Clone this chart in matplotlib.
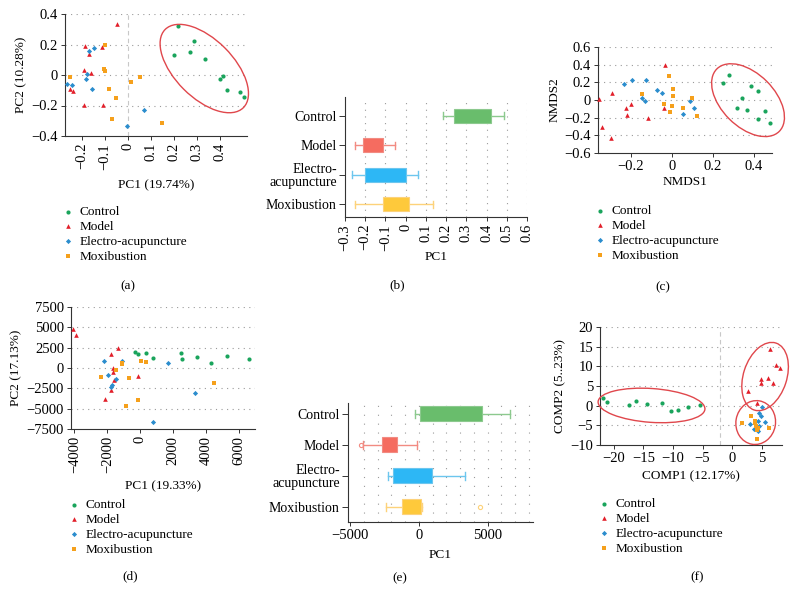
import numpy as np
import matplotlib
matplotlib.use("Agg")
import matplotlib.pyplot as plt
from matplotlib.patches import Ellipse
from matplotlib.transforms import IdentityTransform
from matplotlib.ticker import FuncFormatter

plt.rcParams['font.family'] = ['Liberation Serif', 'DejaVu Serif']
plt.rcParams['font.size'] = 9.5
plt.rcParams['axes.unicode_minus'] = True

# ---------------- data ----------------
groups = ["Control", "Model", "Electro-acupuncture", "Moxibustion"]
box_labels = ["Control", "Model", "Electro-\nacupuncture", "Moxibustion"]

# (a) PCA
a_ctrl_x = [0.22, 0.20, 0.29, 0.27, 0.335, 0.403, 0.416, 0.431, 0.488, 0.509]
a_ctrl_y = [0.32, 0.13, 0.22, 0.15, 0.107, -0.026, -0.009, -0.096, -0.109, -0.142]
a_model_x = [-0.049, -0.187, -0.169, -0.113, -0.19, -0.162, -0.254, -0.241, -0.191, -0.108]
a_model_y = [0.334, 0.188, 0.138, 0.184, 0.03, 0.015, -0.09, -0.105, -0.195, -0.199]
a_ea_x = [-0.171, -0.149, -0.178, -0.185, -0.265, -0.244, -0.156, 0.072, -0.005]
a_ea_y = [0.16, 0.175, 0.006, -0.024, -0.059, -0.063, -0.09, -0.232, -0.337]
a_moxi_x = [-0.101, -0.106, -0.101, -0.252, 0.054, 0.014, -0.084, -0.052, -0.069, 0.149]
a_moxi_y = [0.2, 0.042, 0.026, -0.015, -0.015, -0.048, -0.094, -0.153, -0.291, -0.313]

# (b) PC1 box stats
b_whislo = [0.185, -0.25, -0.263, -0.252]
b_q1 = [0.238, -0.209, -0.202, -0.111]
b_q3 = [0.422, -0.112, 0.002, 0.016]
b_whishi = [0.484, -0.054, 0.06, 0.137]

# (c) NMDS
c_ctrl_x = [0.249, 0.279, 0.387, 0.42, 0.345, 0.319, 0.37, 0.456, 0.42, 0.478]
c_ctrl_y = [0.192, 0.279, 0.155, 0.106, 0.019, -0.094, -0.117, -0.125, -0.215, -0.257]
c_model_x = [-0.035, -0.292, -0.355, -0.199, -0.224, -0.038, -0.219, -0.116, -0.339, -0.295]
c_model_y = [0.4, 0.079, 0.008, -0.045, -0.094, -0.094, -0.174, -0.208, -0.302, -0.43]
c_ea_x = [-0.232, -0.193, -0.124, -0.07, -0.045, -0.144, -0.129, 0.091, 0.11, 0.055]
c_ea_y = [0.185, 0.223, 0.223, 0.109, 0.083, 0.026, -0.011, -0.008, -0.091, -0.162]
c_moxi_x = [-0.012, -0.144, 0.007, 0.007, -0.038, 0.0, -0.007, 0.098, 0.055, 0.126]
c_moxi_y = [0.272, 0.072, 0.128, 0.049, -0.042, -0.068, -0.132, 0.026, -0.091, -0.177]

# (d) PCA (abundance)
d_ctrl_x = [-303, -121, 323, 788, 2444, 2545, 3414, 4283, 5273, 6586]
d_ctrl_y = [1941, 1777, 1900, 1287, 1900, 1124, 1370, 594, 1452, 1165]
d_model_x = [-4101, -3879, -1354, -1758, -1677, -1636, -1596, -1758, -2121, -121]
d_model_y = [4802, 4108, 2513, 1696, -60, -510, -1490, -2717, -3820, -1041]
d_ea_x = [-2202, -1091, -1980, -1737, -1455, 1657, 3293, 768, -1778]
d_ea_y = [920, 920, -837, -2145, -1327, 594, -3126, -6600, -2308]
d_moxi_x = [-1091, -1455, -2364, -667, 61, 323, 4444, -162, -889, -1111]
d_moxi_y = [634, -266, -1165, -1286, 920, 797, -1900, -3903, -4720, 470]

# (e) PC1 box stats
e_whislo = [-289, -4072, -2217, -2386]
e_q1 = [120, -2650, -1904, -1253]
e_q3 = [4578, -1590, 964, 145]
e_whishi = [6651, -169, 3325, 265]
e_fliers = [[], [-4217], [], [4458]]

# (f) PLS-DA
f_ctrl_x = [-21.73, -21.17, -17.48, -16.31, -14.41, -11.89, -10.38, -9.2, -7.53, -5.4]
f_ctrl_y = [1.91, 0.82, 0.07, 1.24, 0.4, 0.57, -1.28, -1.11, -0.44, 0.15]
f_model_x = [6.45, 7.4, 8.08, 4.78, 6.06, 4.94, 6.84, 2.71, 4.11]
f_model_y = [14.5, 10.22, 9.55, 6.78, 6.95, 5.69, 5.86, 3.84, 0.57]
f_ea_x = [5.0, 4.44, 4.83, 4.39, 5.5, 2.93, 4.5, 3.6, 4.33]
f_ea_y = [-0.44, -1.95, -2.6, -3.88, -4.04, -4.7, -5.05, -5.97, -6.48]
f_moxi_x = [3.1, 1.59, 3.88, 4.05, 4.33, 4.16, 6.17, 4.22, 3.77]
f_moxi_y = [-2.6, -4.38, -4.46, -5.13, -5.72, -6.23, -5.64, -8.49, -3.88]

# ---------------- style ----------------
pt_colors = ['#1aa45c', '#e21f2a', '#2b8dcd', '#f5a01c']
pt_markers = ['o', '^', 'D', 's']
pt_sizes = [9, 11, 7, 9]
box_fill = ['#69bd6c', '#f56c60', '#2db7f5', '#fec93b']
box_whisk = ['#8cc98e', '#f28b82', '#6cc6ee', '#fdd27a']
ring_color = '#e0474c'
spine_c = '#333333'
grid_c = '#9a9a9a'
tick_fs = 10.5
label_fs = 9.5

W, H = 794, 604
fig = plt.figure(figsize=(W / 100, H / 100), dpi=100)


def add_ax(l, t, r, b):
    return fig.add_axes([l / W, 1 - b / H, (r - l) / W, (b - t) / H])


def fmt(v, p=None):
    s = f'{v:g}'
    return s.replace('-', '\u2212')


def style(ax):
    for s in ['top', 'right']:
        ax.spines[s].set_visible(False)
    for s in ['left', 'bottom']:
        ax.spines[s].set_color(spine_c)
        ax.spines[s].set_linewidth(0.8)
    ax.tick_params(direction='out', length=3, width=0.7, color=spine_c, pad=2,
                   labelsize=tick_fs)
    ax.xaxis.set_major_formatter(FuncFormatter(fmt))
    ax.yaxis.set_major_formatter(FuncFormatter(fmt))
    ax.set_facecolor('none')


def hgrid(ax, ticks):
    for t in ticks:
        ax.axhline(t, color=grid_c, lw=0.8, ls=(0, (1, 4)), zorder=0)


def vgrid(ax, ticks, dash=(0, (1, 4))):
    for t in ticks:
        ax.axvline(t, color=grid_c, lw=0.8, ls=dash, zorder=0)


def scatter_groups(ax, xs_list, ys_list):
    handles = []
    for i, (xs, ys) in enumerate(zip(xs_list, ys_list)):
        h = ax.scatter(xs, ys, s=pt_sizes[i], c=pt_colors[i], marker=pt_markers[i],
                       linewidths=0, zorder=3, label=groups[i], clip_on=False)
        handles.append(h)
    return handles


def ring(ax, xs, ys, angle, pad_a, pad_b):
    pts = ax.transData.transform(np.column_stack([xs, ys]))
    t = np.radians(angle)
    e1 = np.array([np.cos(t), np.sin(t)])
    e2 = np.array([-np.sin(t), np.cos(t)])
    u = pts @ e1
    v = pts @ e2
    c = e1 * (u.min() + u.max()) / 2 + e2 * (v.min() + v.max()) / 2
    el = Ellipse(c, u.max() - u.min() + 2 * pad_a, v.max() - v.min() + 2 * pad_b,
                 angle=angle, transform=IdentityTransform(), fill=False,
                 ec=ring_color, lw=1.0, clip_on=False, zorder=4)
    ax.add_artist(el)


def legend_at(handles, mx, my):
    fs_px = label_fs * 100 / 72
    fig.legend(handles, groups, loc='upper left',
               bbox_to_anchor=((mx - 0.4 * fs_px) / W, 1 - (my - 0.62 * fs_px) / H),
               frameon=False, borderpad=0, borderaxespad=0, handlelength=0.8,
               handletextpad=0.5, labelspacing=0.2, fontsize=label_fs, markerscale=1.0)


def caption(txt, x, y):
    fig.text(x / W, 1 - y / H, txt, ha='center', va='center', fontsize=label_fs)


def boxes(ax, whislo, q1, q3, whishi, fliers):
    stats = []
    for i in range(4):
        stats.append(dict(whislo=whislo[i], q1=q1[i], med=q1[i], q3=q3[i],
                          whishi=whishi[i], fliers=fliers[i]))
    pos = [4, 3, 2, 1]
    try:
        art = ax.bxp(stats, positions=pos, widths=0.48, orientation='horizontal',
                     patch_artist=True, manage_ticks=False)
    except TypeError:
        art = ax.bxp(stats, positions=pos, widths=0.48, vert=False,
                     patch_artist=True, manage_ticks=False)
    for i in range(4):
        art['boxes'][i].set(facecolor=box_fill[i], edgecolor=box_whisk[i], linewidth=0.8, zorder=3)
        for k in (2 * i, 2 * i + 1):
            art['whiskers'][k].set(color=box_whisk[i], linewidth=1.0)
            art['caps'][k].set(color=box_whisk[i], linewidth=1.0)
        art['medians'][i].set(linewidth=0)
        art['fliers'][i].set(marker='o', markersize=3, markerfacecolor='none',
                             markeredgecolor=box_whisk[i], markeredgewidth=0.8)
    ax.set_yticks(pos)
    ax.set_yticklabels(box_labels, linespacing=0.95, fontsize=label_fs + 0.5)
    ax.tick_params(axis='y', length=4)


# ---------------- (a) ----------------
axa = add_ax(65, 14, 247, 136)
style(axa)
axa.set_xlim(-0.275, 0.52)
axa.set_ylim(-0.4, 0.4)
axa.set_xticks([-0.2, -0.1, 0, 0.1, 0.2, 0.3, 0.4])
axa.set_yticks([-0.4, -0.2, 0, 0.2, 0.4])
axa.tick_params(axis='x', labelrotation=90)
hgrid(axa, [-0.2, 0, 0.2, 0.4])
axa.axvline(0, color='#c8c8c8', lw=0.8, ls=(0, (4, 3)), zorder=0)
ha = scatter_groups(axa, [a_ctrl_x, a_model_x, a_ea_x, a_moxi_x],
                    [a_ctrl_y, a_model_y, a_ea_y, a_moxi_y])
axa.set_xlabel('PC1 (19.74%)', labelpad=7, fontsize=label_fs)
axa.set_ylabel('PC2 (10.28%)', labelpad=3, fontsize=label_fs)
ring(axa, a_ctrl_x, a_ctrl_y, -45, 7, 17)
legend_at(ha, 68, 214)
caption('(a)', 128, 286)

# ---------------- (b) ----------------
axb = add_ax(345, 97, 527, 217)
style(axb)
axb.set_xlim(-0.3, 0.6)
axb.set_ylim(0.56, 4.64)
axb.set_xticks([-0.3, -0.2, -0.1, 0, 0.1, 0.2, 0.3, 0.4, 0.5, 0.6])
axb.tick_params(axis='x', labelrotation=90)
vgrid(axb, [-0.2, -0.1, 0, 0.1, 0.2, 0.3, 0.4, 0.5, 0.6], dash=(0, (1, 5)))
boxes(axb, b_whislo, b_q1, b_q3, b_whishi, [[], [], [], []])
axb.set_xlabel('PC1', labelpad=0, fontsize=label_fs)
caption('(b)', 397, 285)

# ---------------- (c) ----------------
axc = add_ax(598, 47, 772, 153)
style(axc)
axc.set_xlim(-0.36, 0.49)
axc.set_ylim(-0.6, 0.6)
axc.set_xticks([-0.2, 0, 0.2, 0.4])
axc.set_yticks([-0.6, -0.4, -0.2, 0, 0.2, 0.4, 0.6])
hgrid(axc, [-0.4, -0.2, 0, 0.2, 0.4, 0.6])
hc = scatter_groups(axc, [c_ctrl_x, c_model_x, c_ea_x, c_moxi_x],
                    [c_ctrl_y, c_model_y, c_ea_y, c_moxi_y])
axc.set_xlabel('NMDS1', labelpad=2, fontsize=label_fs)
axc.set_ylabel('NMDS2', labelpad=3, fontsize=label_fs)
ring(axc, c_ctrl_x, c_ctrl_y, -45, 13, 13)
legend_at(hc, 600, 213)
caption('(c)', 663, 287)

# ---------------- (d) ----------------
axd = add_ax(71, 307, 255, 429)
style(axd)
axd.set_xlim(-4200, 6950)
axd.set_ylim(-7500, 7500)
axd.set_xticks([-4000, -2000, 0, 2000, 4000, 6000])
axd.set_yticks([-7500, -5000, -2500, 0, 2500, 5000, 7500])
axd.tick_params(axis='x', labelrotation=90)
hgrid(axd, [-5000, -2500, 0, 2500, 5000, 7500])
hd = scatter_groups(axd, [d_ctrl_x, d_model_x, d_ea_x, d_moxi_x],
                    [d_ctrl_y, d_model_y, d_ea_y, d_moxi_y])
axd.set_xlabel('PC1 (19.33%)', labelpad=5, fontsize=label_fs)
axd.set_ylabel('PC2 (17.13%)', labelpad=3, fontsize=label_fs)
legend_at(hd, 74, 507)
caption('(d)', 130, 576)

# ---------------- (e) ----------------
axe = add_ax(348, 403, 533, 522)
style(axe)
axe.set_xlim(-5150, 8300)
axe.set_ylim(0.51, 4.35)
axe.set_xticks([-5000, 0, 5000])
vgrid(axe, list(range(-4000, 8001, 1000)), dash=(0, (1, 7)))
boxes(axe, e_whislo, e_q1, e_q3, e_whishi, e_fliers)
axe.set_xlabel('PC1', labelpad=5, fontsize=label_fs)
caption('(e)', 400, 578)

# ---------------- (f) ----------------
axf = add_ax(600, 327, 782, 445)
style(axf)
axf.set_xlim(-22.3, 8.4)
axf.set_ylim(-10, 20)
axf.set_xticks([-20, -15, -10, -5, 0, 5])
axf.set_yticks([-10, -5, 0, 5, 10, 15, 20])
hgrid(axf, [-5, 0, 5, 10, 15, 20])
axf.axvline(-2, color='#c8c8c8', lw=0.8, ls=(0, (4, 3)), zorder=0)
hf = scatter_groups(axf, [f_ctrl_x, f_model_x, f_ea_x, f_moxi_x],
                    [f_ctrl_y, f_model_y, f_ea_y, f_moxi_y])
axf.set_xlabel('COMP1 (12.17%)', labelpad=4, fontsize=label_fs)
axf.set_ylabel('COMP2 (5..23%)', labelpad=3, fontsize=label_fs)
ring(axf, f_ctrl_x, f_ctrl_y, -4, 5, 13)
ring(axf, f_model_x, f_model_y, 72, 7, 10)
ring(axf, f_ea_x + f_moxi_x, f_ea_y + f_moxi_y, 80, 6, 6)
legend_at(hf, 604, 506)
caption('(f)', 697, 577)

fig.savefig('out.png', dpi=100)
